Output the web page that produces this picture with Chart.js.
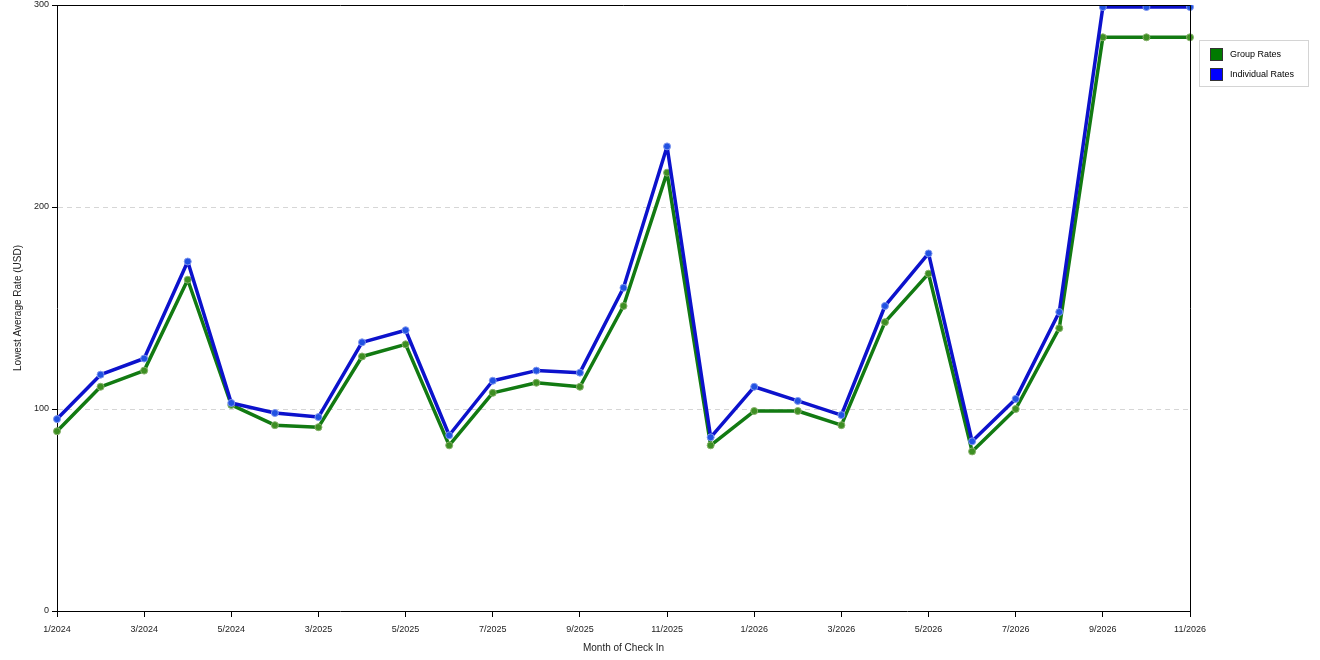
<!DOCTYPE html>
<html>
<head>
<meta charset="utf-8">
<script src="https://cdn.jsdelivr.net/npm/chart.js@4.4.1/dist/chart.umd.min.js"></script>
<style>
  html, body { margin: 0; padding: 0; background: #fff; }
  #wrap { position: relative; width: 1320px; height: 660px; }
  #legend {
    position: absolute; left: 1199px; top: 40px; width: 108px; height: 45px;
    border: 1px solid #d4d4d4; font: 9px 'Liberation Sans', Arial, sans-serif; color: #000;
  }
  #legend .row { position: absolute; left: 10px; height: 13px; line-height: 13px; }
  #legend .sw { position: absolute; left: 0; top: 0; width: 11px; height: 11px; border: 1px solid #333; }
  #legend .lbl { position: absolute; left: 20px; top: 0; white-space: nowrap; }
</style>
</head>
<body>
<div id="wrap">
  <canvas id="chart" width="1320" height="660"></canvas>
  <div id="legend"></div>
</div>
<script>
// ─── Data ─────────────────────────────────────────────────────────
const months = [
    '1/2024', '2/2024', '3/2024', '4/2024', '5/2024', '2/2025', '3/2025', '4/2025', '5/2025',
    '6/2025', '7/2025', '8/2025', '9/2025', '10/2025', '11/2025', '12/2025', '1/2026', '2/2026',
    '3/2026', '4/2026', '5/2026', '6/2026', '7/2026', '8/2026', '9/2026', '10/2026', '11/2026',
];
const groupRates = [
    89, 111, 119, 164, 102, 92, 91, 126, 132, 82, 108, 113, 111, 151, 217,
    82, 99, 99, 92, 143, 167, 79, 100, 140, 284, 284, 284,
];
const individualRates = [
    95, 117, 125, 173, 103, 98, 96, 133, 139, 87, 114, 119, 118, 160, 230,
    86, 111, 104, 97, 151, 177, 84, 105, 148, 299, 299, 299,
];
const yTicks = [0, 100, 200, 300];

const colors = {
    green: '#127a12',
    greenPoint: '#3d8f22',
    greenHalo: '#86b06a',
    blue: '#0c12cc',
    bluePoint: '#2152e2',
    blueHalo: '#7f96ee',
    legendGreen: '#007a00',
    legendBlue: '#0000ff',
};

const FONT = "'Liberation Sans', Arial, sans-serif";

// ─── Frame (top + right borders of the plot box) ──────────────────
const framePlugin = {
    id: 'frame',
    afterDraw(chart) {
        const { ctx, chartArea: a } = chart;
        ctx.save();
        ctx.strokeStyle = '#000';
        ctx.lineWidth = 1;
        ctx.beginPath();
        ctx.moveTo(a.left, a.top + 0.5);
        ctx.lineTo(a.right + 0.5, a.top + 0.5);
        ctx.lineTo(a.right + 0.5, a.bottom);
        ctx.stroke();
        ctx.restore();
    },
};

new Chart(document.getElementById('chart'), {
    type: 'line',
    data: {
        labels: months,
        datasets: [
            {
                label: 'Group Rates',
                data: groupRates,
                borderColor: colors.green,
                borderWidth: 3.5,
                borderJoinStyle: 'round',
                pointRadius: 3.5,
                pointBackgroundColor: colors.greenPoint,
                pointBorderColor: colors.greenHalo,
                pointBorderWidth: 1,
                tension: 0,
                order: 1,
            },
            {
                label: 'Individual Rates',
                data: individualRates,
                borderColor: colors.blue,
                borderWidth: 3.5,
                borderJoinStyle: 'round',
                pointRadius: 3.5,
                pointBackgroundColor: colors.bluePoint,
                pointBorderColor: colors.blueHalo,
                pointBorderWidth: 1,
                tension: 0,
                order: 0,
            },
        ],
    },
    options: {
        responsive: false,
        animation: false,
        devicePixelRatio: 1,
        layout: { padding: { left: 0, right: 130, top: 0, bottom: 0 } },
        plugins: { legend: { display: false }, tooltip: { enabled: false } },
        scales: {
            x: {
                offset: false,
                afterFit: (s) => { s.height = 49; s.paddingTop = 0; },
                border: { color: '#000', width: 1 },
                grid: {
                    drawOnChartArea: false,
                    tickLength: 6,
                    tickColor: (c) => (c.index % 2 === 0 ? '#000' : 'rgba(0,0,0,0)'),
                    color: 'rgba(0,0,0,0)',
                },
                ticks: {
                    autoSkip: false,
                    maxRotation: 0,
                    padding: 7,
                    color: '#222',
                    font: { family: FONT, size: 9 },
                    callback: (v, i) => (i % 2 === 0 ? months[i] : ''),
                },
                title: {
                    display: true,
                    text: 'Month of Check In',
                    color: '#222',
                    font: { family: FONT, size: 10 },
                    padding: { top: 0, bottom: 6 },
                },
            },
            y: {
                min: yTicks[0],
                max: yTicks[yTicks.length - 1],
                afterFit: (s) => { s.width = 57; s.paddingTop = 5; s.paddingBottom = 0; },
                afterBuildTicks: (s) => { s.ticks = yTicks.map((v) => ({ value: v })); },
                border: { color: '#000', width: 1, dash: [5, 4] },
                grid: {
                    tickLength: 5,
                    tickColor: '#000',
                    color: (c) => (c.tick && (c.tick.value === 100 || c.tick.value === 200) ? '#d6d6d6' : 'rgba(0,0,0,0)'),
                },
                ticks: {
                    padding: 3,
                    color: '#222',
                    font: { family: FONT, size: 9 },
                },
                title: {
                    display: true,
                    text: 'Lowest Average Rate (USD)',
                    color: '#222',
                    font: { family: FONT, size: 10 },
                    padding: { top: 12, bottom: 0 },
                },
            },
        },
    },
    plugins: [framePlugin],
});

// ─── Legend ───────────────────────────────────────────────────────
const legendItems = [
    { text: 'Group Rates', color: colors.legendGreen },
    { text: 'Individual Rates', color: colors.legendBlue },
];
const legendEl = document.getElementById('legend');
legendItems.forEach((item, i) => {
    const row = document.createElement('div');
    row.className = 'row';
    row.style.top = (7 + i * 20) + 'px';
    row.innerHTML = '<span class="sw" style="background:' + item.color + '"></span>' +
        '<span class="lbl">' + item.text + '</span>';
    legendEl.appendChild(row);
});
</script>
</body>
</html>
